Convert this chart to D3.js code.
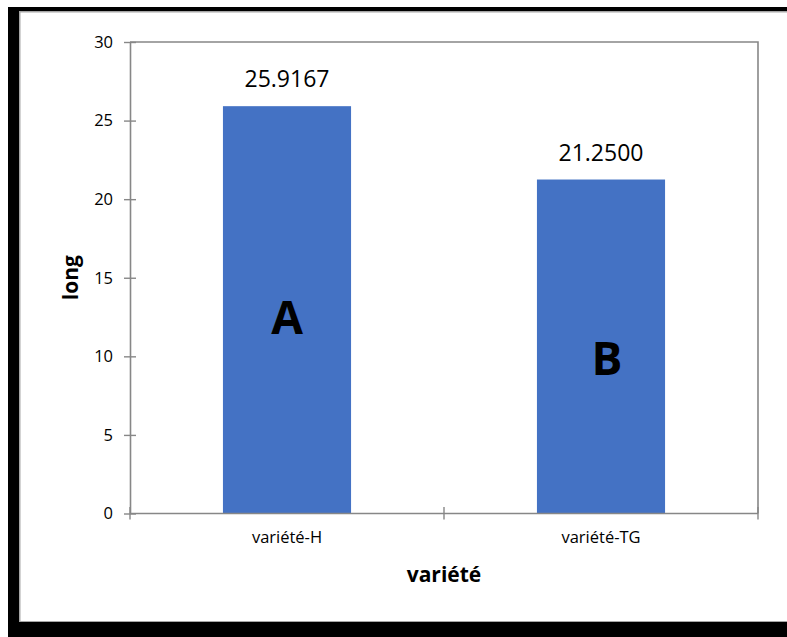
<!DOCTYPE html>
<html>
<head>
<meta charset="utf-8">
<script src="https://cdn.jsdelivr.net/npm/d3@7"></script>
<style>
  html, body { margin: 0; padding: 0; background: #fff; }
  svg { display: block; }
  text { font-family: "Open Sans", sans-serif; fill: #000; }
</style>
</head>
<body>
<svg id="chart" width="787" height="637"></svg>
<script>
// Mean length per variety, with significance group letters
const categories = ["variété-H", "variété-TG"];
const values = [25.9167, 21.25];
const valueLabels = ["25.9167", "21.2500"];
const groupLetters = ["A", "B"];
const yTicks = [0, 5, 10, 15, 20, 25, 30];
const yTitle = "long";
const xTitle = "variété";

const svg = d3.select("#chart");
const W = 787, H = 637;
const plot = { left: 130, right: 758, top: 42, bottom: 513.5 };
const axisColor = "#878787";
const barColor = "#4472C4";

// Framed chart area: heavy dark edge on the left, top and bottom, thin grey inner rule
svg.append("rect").attr("x", 8).attr("y", 7).attr("width", W - 8).attr("height", H - 7).attr("fill", "#000");
svg.append("rect").attr("x", 19).attr("y", 11).attr("width", W - 19).attr("height", 611).attr("fill", "#a6a6a6");
svg.append("rect").attr("x", 20.5).attr("y", 12.5).attr("width", W - 20.5).attr("height", 608.5).attr("fill", "#fff");

const y = d3.scaleLinear().domain([0, 30]).range([plot.bottom, plot.top]);
const x = d3.scaleBand().domain(categories).range([plot.left, plot.right])
  .paddingInner(0.592).paddingOuter(0.296);

// Plot area outline (top and right edges)
svg.append("path")
  .attr("d", `M${plot.left},${plot.top}H${plot.right}V${plot.bottom}`)
  .attr("fill", "none").attr("stroke", axisColor).attr("stroke-width", 1.6);

// Bars
svg.append("g").selectAll("rect").data(values).join("rect")
  .attr("x", (d, i) => x(categories[i]))
  .attr("width", x.bandwidth())
  .attr("y", d => y(d))
  .attr("height", d => y(0) - y(d))
  .attr("fill", barColor);

// Y axis with ticks crossing the axis line
const yAxis = svg.append("g").attr("transform", `translate(${plot.left},0)`)
  .call(d3.axisLeft(y).tickValues(yTicks).tickSize(6).tickSizeOuter(0).tickPadding(11));
yAxis.select(".domain").attr("stroke", axisColor).attr("stroke-width", 1.6);
yAxis.selectAll(".tick line").attr("x1", -6).attr("x2", 6).attr("stroke", axisColor).attr("stroke-width", 1.4);
yAxis.selectAll(".tick text").attr("font-family", "Open Sans").attr("font-size", 16.5).attr("fill", "#000");

// X axis: category separators as tick marks, labels at band centres
const step = x.step();
const sepPositions = [plot.left].concat(categories.map(c => x(c) + x.bandwidth() / 2 + step / 2));
const xAxis = svg.append("g").attr("transform", `translate(0,${plot.bottom})`);
xAxis.append("line").attr("x1", plot.left).attr("x2", plot.right)
  .attr("stroke", axisColor).attr("stroke-width", 1.6);
xAxis.selectAll("line.sep").data(sepPositions).join("line").attr("class", "sep")
  .attr("x1", d => d).attr("x2", d => d).attr("y1", -6.5).attr("y2", 6)
  .attr("stroke", axisColor).attr("stroke-width", 1.4);
xAxis.selectAll("text").data(categories).join("text")
  .attr("x", d => x(d) + x.bandwidth() / 2)
  .attr("y", 29)
  .attr("text-anchor", "middle")
  .attr("font-size", 16.5)
  .text(d => d);

// Value labels above bars
svg.append("g").selectAll("text").data(values).join("text")
  .attr("x", (d, i) => x(categories[i]) + x.bandwidth() / 2)
  .attr("y", d => y(d) - 19)
  .attr("text-anchor", "middle")
  .attr("font-size", 23)
  .text((d, i) => valueLabels[i]);

// Group letters inside bars
const letterPos = [{ dx: 0, v: 11.4 }, { dx: 6, v: 8.8 }];
svg.append("g").selectAll("text").data(groupLetters).join("text")
  .attr("x", (d, i) => x(categories[i]) + x.bandwidth() / 2 + letterPos[i].dx)
  .attr("y", (d, i) => y(letterPos[i].v))
  .attr("text-anchor", "middle")
  .attr("font-size", 46)
  .attr("font-weight", "bold")
  .text(d => d);

// Axis titles
svg.append("text")
  .attr("transform", `translate(78,${(plot.top + plot.bottom) / 2}) rotate(-90)`)
  .attr("text-anchor", "middle")
  .attr("font-size", 21)
  .attr("font-weight", "bold")
  .text(yTitle);

svg.append("text")
  .attr("x", (plot.left + plot.right) / 2)
  .attr("y", 582)
  .attr("text-anchor", "middle")
  .attr("font-size", 21)
  .attr("font-weight", "bold")
  .text(xTitle);
</script>
</body>
</html>
